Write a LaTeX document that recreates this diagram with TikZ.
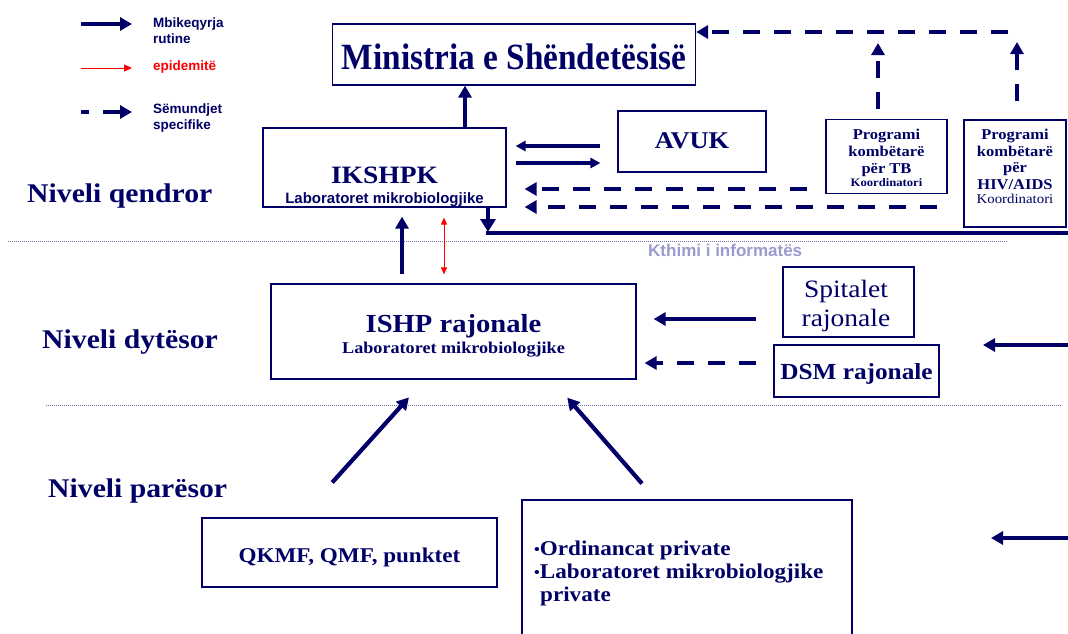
\documentclass[tikz,border=0pt]{standalone}
\usepackage{fontspec}
\setmainfont{Liberation Serif}
\newfontfamily\serifw{Liberation Serif}[FakeStretch=1.1]
\newfontfamily\serifn{Liberation Serif}[FakeStretch=0.9]
\newfontfamily\sansb{Liberation Sans}
\usetikzlibrary{arrows.meta,calc}
\definecolor{navy}{RGB}{0,0,102}
\definecolor{kth}{RGB}{155,155,205}
\newcommand\setfs[1]{\fontsize{#1}{#1}\selectfont}
\newcommand\pbul{{\setfs{15}\raisebox{1pt}{•}}}
\tikzset{
 box/.style={draw=navy, line width=1.2pt, inner sep=0pt},
 txt/.style={inner sep=0pt, anchor=base, text=navy},
 ltxt/.style={inner sep=0pt, anchor=base west, text=navy},
 fa/.style={draw=navy, line width=4.2pt, -{Triangle[length=12pt,width=13pt]}},
 fda/.style={fa, dash pattern=on 17pt off 14pt},
 sa/.style={draw=navy, line width=3.2pt, -{Triangle[length=10pt,width=10pt]}},
 ra/.style={draw=red, line width=1pt, {Triangle[length=7pt,width=6pt]}-{Triangle[length=7pt,width=6pt]}},
 sepline/.style={draw=navy!55, line width=0.7pt, dash pattern=on 1pt off 1pt},
 lgd/.style={ltxt, font=\sansb\bfseries\setfs{13.5}},
}
\begin{document}
\begin{tikzpicture}[x=1pt,y=-1pt]
\clip (0,0) rectangle (1068,633);
\fill[white] (0,0) rectangle (1068,633);

% legend
\coordinate (l1a) at (81,24); \coordinate (l1b) at (132,24);
\draw[fa] (l1a) -- (l1b);
\coordinate (l2a) at (81,68); \coordinate (l2b) at (132,68);
\draw[red, line width=1pt, -{Triangle[length=8pt,width=7pt]}] (l2a) -- (l2b);
\coordinate (l3a) at (81,112); \coordinate (l3b) at (132,112);
\draw[fa, dash pattern=on 8pt off 14pt on 60pt off 1pt] (l3a) -- (l3b);
\node[lgd] (lg1) at (153,27) {Mbikeqyrja};
\node[lgd] (lg2) at (153,43) {rutine};
\node[lgd, text=red] (lg3) at (153,70) {epidemitë};
\node[lgd] (lg4) at (153,113) {Sëmundjet};
\node[lgd] (lg5) at (153,129) {specifike};

% separators
\coordinate (s1a) at (8,241); \coordinate (s1b) at (1007,241);
\draw[sepline] (s1a) -- (s1b);
\coordinate (s2a) at (46,405); \coordinate (s2b) at (1062,405);
\draw[sepline] (s2a) -- (s2b);

% level labels
\node[ltxt, font=\serifw\bfseries\setfs{27}] (n1) at (27,202) {Niveli qendror};
\node[ltxt, font=\serifw\bfseries\setfs{27}] (n2) at (42,348) {Niveli dytësor};
\node[ltxt, font=\serifw\bfseries\setfs{27}] (n3) at (48,497) {Niveli parësor};

% boxes
\node[box, minimum width=363pt, minimum height=61pt] (MS) at (514,54.5) {};
\node[txt, font=\serifn\bfseries\setfs{37}] (MSt) at (514,69) {Ministria e Shëndetësisë};

\node[box, minimum width=243pt, minimum height=79pt] (IK) at (384.5,167.5) {};
\node[txt, font=\serifw\bfseries\setfs{25}] (IKt1) at (384.5,183) {IKSHPK};
\node[txt, font=\sansb\bfseries\setfs{15}] (IKt2) at (384.5,203) {Laboratoret mikrobiologjike};

\node[box, minimum width=148pt, minimum height=61pt] (AV) at (692,141.5) {};
\node[txt, font=\serifw\bfseries\setfs{24}] (AVt) at (692,148) {AVUK};

\node[box, minimum width=121pt, minimum height=74pt] (TB) at (886.5,156.5) {};
\node[txt, font=\serifw\bfseries\setfs{15}] (TBt1) at (886.5,139) {Programi};
\node[txt, font=\serifw\bfseries\setfs{15}] (TBt2) at (886.5,156) {kombëtarë};
\node[txt, font=\serifw\bfseries\setfs{15}] (TBt3) at (886.5,173) {për TB};
\node[txt, font=\serifw\bfseries\setfs{11.5}] (TBt4) at (886.5,186) {Koordinatori};

\node[box, minimum width=102pt, minimum height=107pt] (HV) at (1015,173.5) {};
\node[txt, font=\serifw\bfseries\setfs{15}] (HVt1) at (1015,139) {Programi};
\node[txt, font=\serifw\bfseries\setfs{15}] (HVt2) at (1015,156) {kombëtarë};
\node[txt, font=\serifw\bfseries\setfs{15}] (HVt3) at (1015,172) {për};
\node[txt, font=\serifw\bfseries\setfs{15}] (HVt4) at (1015,189) {HIV/AIDS};
\node[txt, font=\serifw\setfs{13.5}] (HVt5) at (1015,203) {Koordinatori};

\node[box, minimum width=365pt, minimum height=95pt] (IS) at (453.5,331.5) {};
\node[txt, font=\serifw\bfseries\setfs{26}] (ISt1) at (453.5,332) {ISHP rajonale};
\node[txt, font=\serifw\bfseries\setfs{16.5}] (ISt2) at (453.5,353) {Laboratoret mikrobiologjike};

\node[box, minimum width=131pt, minimum height=70pt] (SP) at (848.5,302) {};
\node[txt, font=\serifw\setfs{25}] (SPt1) at (846,297) {Spitalet};
\node[txt, font=\serifw\setfs{25}] (SPt2) at (846,326) {rajonale};

\node[box, minimum width=165pt, minimum height=52pt] (DS) at (856.5,371) {};
\node[txt, font=\serifw\bfseries\setfs{23}] (DSt) at (856.5,379) {DSM rajonale};

\node[box, minimum width=295pt, minimum height=69pt] (QK) at (349.5,552.5) {};
\node[txt, font=\serifw\bfseries\setfs{21}] (QKt) at (349.5,562) {QKMF, QMF, punktet};

\node[box, minimum width=330pt, minimum height=140pt] (PV) at (687,570) {};
\node[ltxt, font=\serifw\bfseries\setfs{21}] (PVt1) at (534,555) {\pbul Ordinancat private};
\node[ltxt, font=\serifw\bfseries\setfs{21}] (PVt2) at (534,578) {\pbul Laboratoret mikrobiologjike};
\node[ltxt, font=\serifw\bfseries\setfs{21}] (PVt3) at (540,601) {private};

\node[ltxt, text=kth, font=\sansb\bfseries\setfs{17}] (KT) at (648,256) {Kthimi i informatës};

% connectors
\draw[fa] (465,0 |- IK.north) -- (465,0 |- MS.south);
\draw[sa, shorten <=17pt, shorten >=9pt] (AV.west |- 0,146) -- (IK.east |- 0,146);
\draw[sa, shorten <=9pt, shorten >=17pt] (IK.east |- 0,163) -- (AV.west |- 0,163);

\coordinate (jT) at (878,32);
\coordinate (jH) at (1017,32);
\coordinate (jHe) at (1008,32);
\draw[fda, shorten <=10pt, shorten >=11pt] (878,0 |- TB.north) -- (jT);
\draw[fda, shorten <=18pt, shorten >=10pt] (1017,0 |- HV.north) -- (jH);
\draw[fda] (jHe) -- (MS.east |- jHe);

\draw[fda, shorten <=18pt, shorten >=18pt] (TB.west |- 0,189) -- (IK.east |- 0,189);
\draw[fda, shorten <=26pt, shorten >=18pt] (HV.west |- 0,207) -- (IK.east |- 0,207);

\coordinate (fb) at (488,232);
\coordinate (fbR) at (1070,232);
\draw[fa, -{Triangle[length=13pt,width=15pt]}] (488,0 |- IK.south) -- (fb);
\draw[navy, line width=4.4pt] (486,233) -- (fbR |- 0,233);

\draw[fa, shorten <=9pt, shorten >=9pt] (402,0 |- IS.north) -- (402,0 |- IK.south);
\draw[ra, shorten <=9pt, shorten >=10pt] (444,0 |- IS.north) -- (444,0 |- IK.south);

\draw[fa, shorten <=26pt, shorten >=17pt] (SP.west |- 0,319) -- (IS.east |- 0,319);
\draw[fda, shorten <=17pt, shorten >=8pt] (DS.west |- 0,363) -- (IS.east |- 0,363);

\draw[fa, shorten <=47pt, shorten >=24pt] (300.7,0 |- QK.north) -- (425,0 |- IS.south);
\draw[fa, shorten <=21pt, shorten >=24pt] (655.8,0 |- PV.north) -- (551.5,0 |- IS.south);

\coordinate (r1a) at (1070,345); \coordinate (r1b) at (983,345);
\draw[fa] (r1a) -- (r1b);
\coordinate (r2a) at (1070,538); \coordinate (r2b) at (991,538);
\draw[fa] (r2a) -- (r2b);
\end{tikzpicture}
\end{document}
